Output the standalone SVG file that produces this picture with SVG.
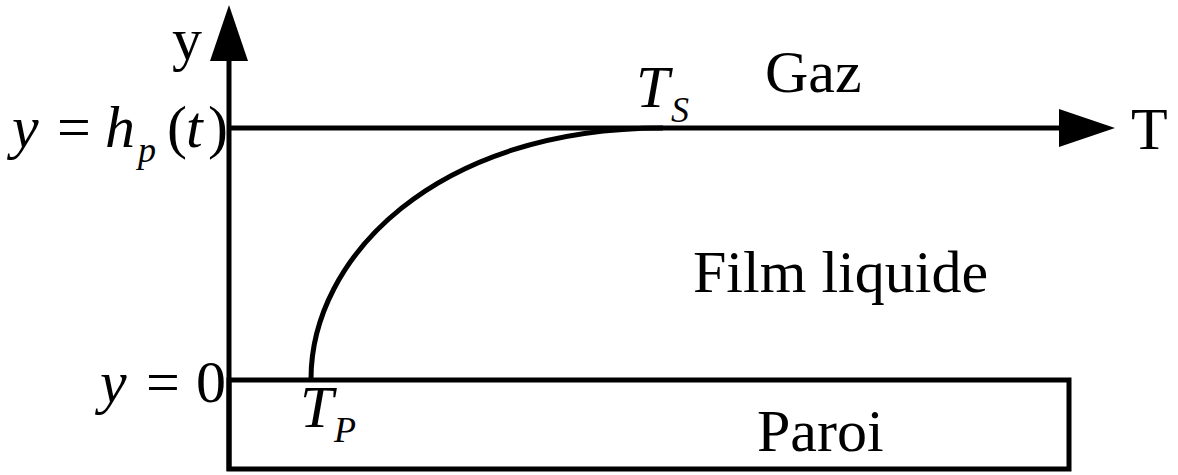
<svg xmlns="http://www.w3.org/2000/svg" width="1178" height="475" viewBox="0 0 1178 475">
<style>
.ln{stroke:#000;stroke-width:5;fill:none}
.ah{fill:#000;stroke:none}
text{font-family:"Liberation Serif","Times New Roman",serif;fill:#000;font-size:60px}
.it{font-style:italic}
.sub{font-style:italic;font-size:36px}
</style>
<rect width="1178" height="475" fill="#fff"/>
<g id="connectors">
<line class="ln" x1="229" y1="471" x2="229" y2="58"/>
<polygon class="ah" points="229,5 248,61 210,61"/>
<line class="ln" x1="229" y1="128" x2="1062" y2="128"/>
<polygon class="ah" points="1115,128 1059,109 1059,147"/>
<path class="ln" d="M311,379 C311,258 435,128 663,128"/>
</g>
<g id="paroi">
<rect class="ln" x="229" y="380" width="840" height="89"/>
<text x="757" y="451">Paroi</text>
</g>
<g id="labels">
<text id="ylabel" x="172" y="59">y</text>
<text id="Tlabel" x="1131" y="149">T</text>
<text id="gaz" x="765" y="92">Gaz</text>
<text id="film" x="693" y="292" font-size="62">Film liquide</text>
<g id="hp">
<text class="it" x="12" y="147">y</text>
<text x="57" y="147">=</text>
<text class="it" x="105" y="147">h</text>
<text class="sub" x="138" y="162">p</text>
<text x="167" y="147">(</text>
<text class="it" x="186" y="147">t</text>
<text x="208" y="147">)</text>
</g>
<g id="y0">
<text class="it" x="100" y="402">y</text>
<text x="146" y="402">=</text>
<text x="196" y="402">0</text>
</g>
<g id="TS">
<text class="it" x="636" y="107">T</text>
<text class="sub" x="671" y="122">S</text>
</g>
<g id="TP">
<text class="it" x="300" y="427">T</text>
<text class="sub" x="334" y="442">P</text>
</g>
</g>
</svg>
